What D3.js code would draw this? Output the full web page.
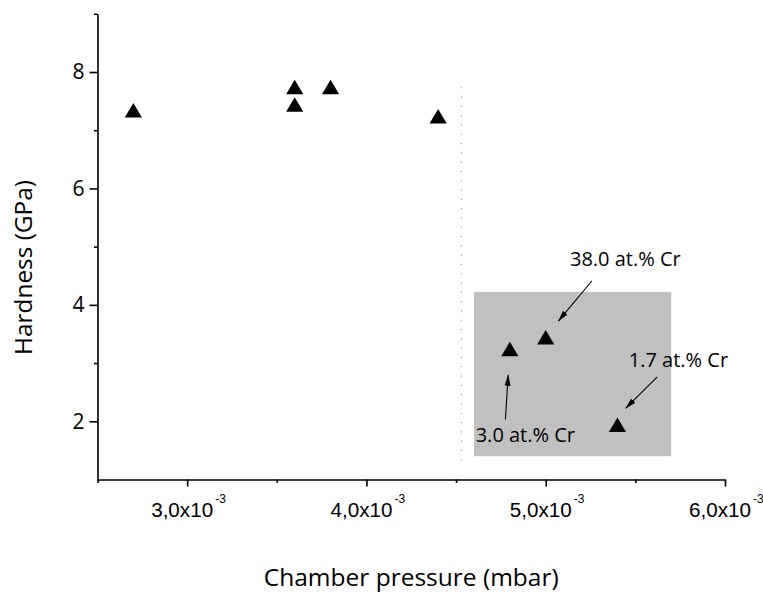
<!DOCTYPE html>
<html>
<head>
<meta charset="utf-8">
<script src="https://cdn.jsdelivr.net/npm/d3@7"></script>
<style>
  html, body { margin: 0; padding: 0; background: #fff; }
  svg { display: block; font-family: "Open Sans", "DejaVu Sans", sans-serif; }
</style>
</head>
<body>
<svg id="chart" width="763" height="593"></svg>
<script>
// Hardness of the coatings versus chamber pressure
const pressure = [2.7e-3, 3.6e-3, 3.6e-3, 3.8e-3, 4.4e-3, 4.8e-3, 5.0e-3, 5.4e-3];
const hardness = [7.3, 7.7, 7.4, 7.7, 7.2, 3.2, 3.4, 1.9];

// Axis ticks and labels
const xMajorTicks = [3.0e-3, 4.0e-3, 5.0e-3, 6.0e-3];
const xMinorTicks = [2.5e-3, 3.5e-3, 4.5e-3, 5.5e-3];
const xTickMantissa = ["3,0x10", "4,0x10", "5,0x10", "6,0x10"];
const xTickExponent = "-3";
const yMajorTicks = [2, 4, 6, 8];
const yMinorTicks = [3, 5, 7, 9];
const yTickLabels = ["2", "4", "6", "8"];

// Shaded region and dotted divider (data units)
const regionPressure = [4.6e-3, 5.7e-3];
const regionHardness = [1.4, 4.22];
const dividerPressure = 4.53e-3;
const dividerHardness = [1.26, 7.74];

// Cr content annotations: label anchor, arrow start, arrow end (data units)
const annotationText = ["38.0 at.% Cr", "1.7 at.% Cr", "3.0 at.% Cr"];
const annotationAt = [[5.141e-3, 4.665], [5.469e-3, 2.93], [4.615e-3, 1.64]];
const arrowFrom = [[5.257e-3, 4.41], [5.621e-3, 2.76], [4.775e-3, 2.03]];
const arrowTo = [[5.07e-3, 3.72], [5.445e-3, 2.22], [4.791e-3, 2.80]];

const width = 763, height = 593;
const margin = { top: 13.8, right: 38, bottom: 113.5, left: 97.5 };

const svg = d3.select("#chart");
svg.append("rect").attr("width", width).attr("height", height).attr("fill", "#fff");

const x = d3.scaleLinear().domain([2.5e-3, 6.0e-3]).range([margin.left, width - margin.right]);
const y = d3.scaleLinear().domain([1, 9]).range([height - margin.bottom, margin.top]);

// arrowhead marker
svg.append("defs").append("marker")
  .attr("id", "arrowhead")
  .attr("viewBox", "0 0 11 6")
  .attr("refX", 11).attr("refY", 3)
  .attr("markerWidth", 11).attr("markerHeight", 6)
  .attr("markerUnits", "userSpaceOnUse")
  .attr("orient", "auto")
  .append("path").attr("d", "M0,0 L11,3 L0,6 Z").attr("fill", "#000");

// shaded region
svg.append("rect")
  .attr("x", x(regionPressure[0]))
  .attr("y", y(regionHardness[1]))
  .attr("width", x(regionPressure[1]) - x(regionPressure[0]))
  .attr("height", y(regionHardness[0]) - y(regionHardness[1]))
  .attr("fill", "#c0c0c0");

// dotted divider
svg.append("line")
  .attr("x1", x(dividerPressure)).attr("x2", x(dividerPressure))
  .attr("y1", y(dividerHardness[1])).attr("y2", y(dividerHardness[0]))
  .attr("stroke", "#9a9a9a").attr("stroke-width", 1.2)
  .attr("stroke-dasharray", "1.2,8.1");

// axes
const axisStyle = g => {
  g.selectAll("path.domain").attr("stroke", "#000").attr("stroke-width", 1.6);
  g.selectAll(".tick line").attr("stroke", "#000").attr("stroke-width", 1.6);
};

const xAxisG = svg.append("g")
  .attr("transform", `translate(0,${y(1)})`)
  .call(d3.axisBottom(x).tickValues(xMajorTicks).tickSize(7).tickSizeOuter(0).tickFormat(""))
  .call(axisStyle);
svg.append("g")
  .attr("transform", `translate(0,${y(1)})`)
  .call(d3.axisBottom(x).tickValues(xMinorTicks).tickSize(3.5).tickFormat(""))
  .call(g => g.select("path.domain").remove())
  .call(axisStyle);

xAxisG.selectAll(".tick").each(function(d, i) {
  const t = d3.select(this);
  t.append("text")
    .attr("x", -36.5).attr("y", 37)
    .attr("text-anchor", "start")
    .attr("font-size", 20.5)
    .attr("textLength", 62).attr("lengthAdjust", "spacingAndGlyphs")
    .attr("fill", "#000")
    .text(xTickMantissa[i]);
  t.append("text")
    .attr("x", 27.5).attr("y", 23.5)
    .attr("text-anchor", "start")
    .attr("font-size", 12)
    .attr("fill", "#000")
    .text(xTickExponent);
});

svg.append("g")
  .attr("transform", `translate(${x(2.5e-3)},0)`)
  .call(d3.axisLeft(y).tickValues(yMajorTicks).tickSize(8).tickSizeOuter(0).tickPadding(5)
    .tickFormat((d, i) => yTickLabels[i]))
  .call(axisStyle)
  .call(g => g.selectAll(".tick text")
    .attr("font-size", 21).attr("fill", "#000")
    .attr("font-family", "'Open Sans', sans-serif"));
svg.append("g")
  .attr("transform", `translate(${x(2.5e-3)},0)`)
  .call(d3.axisLeft(y).tickValues(yMinorTicks).tickSize(3.5).tickFormat(""))
  .call(g => g.select("path.domain").remove())
  .call(axisStyle);

// axis titles
svg.append("text")
  .attr("x", (x.range()[0] + x.range()[1]) / 2)
  .attr("y", 586)
  .attr("text-anchor", "middle")
  .attr("font-size", 24.5)
  .attr("fill", "#000")
  .text("Chamber pressure (mbar)");

svg.append("text")
  .attr("transform", "translate(32,267.5) rotate(-90)")
  .attr("text-anchor", "middle")
  .attr("font-size", 24.4)
  .attr("fill", "#000")
  .text("Hardness (GPa)");

// data points: up-triangles centred on their centroid
const triangle = "M0,-9.67L8.6,4.83L-8.6,4.83Z";
svg.append("g").selectAll("path")
  .data(pressure.map((p, i) => [p, hardness[i]]))
  .join("path")
  .attr("d", triangle)
  .attr("transform", d => `translate(${x(d[0])},${y(d[1])})`)
  .attr("fill", "#000");

// annotations
const ann = svg.append("g");
annotationText.forEach((txt, i) => {
  ann.append("line")
    .attr("x1", x(arrowFrom[i][0])).attr("y1", y(arrowFrom[i][1]))
    .attr("x2", x(arrowTo[i][0])).attr("y2", y(arrowTo[i][1]))
    .attr("stroke", "#000").attr("stroke-width", 1.1)
    .attr("marker-end", "url(#arrowhead)");
  ann.append("text")
    .attr("x", x(annotationAt[i][0]) - 1).attr("y", y(annotationAt[i][1]))
    .attr("font-size", 20)
    .attr("fill", "#000")
    .text(txt);
});
</script>
</body>
</html>
